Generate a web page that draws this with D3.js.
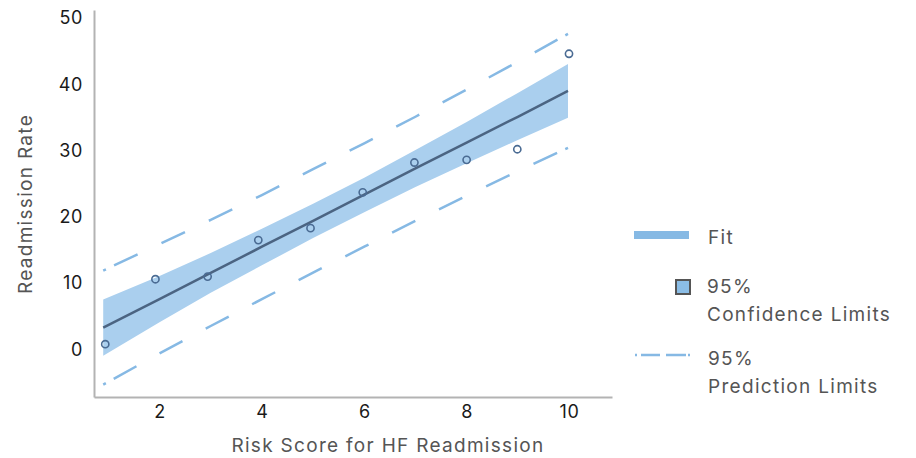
<!DOCTYPE html>
<html>
<head>
<meta charset="utf-8">
<script src="https://cdn.jsdelivr.net/npm/d3@7"></script>
<style>
  body { margin: 0; background: #fff; }
  text { font-family: Inter, "Noto Sans", sans-serif; }
</style>
</head>
<body>
<div id="chart"></div>
<script>
(function () {

    // observed points
    var scoreX = [0.94, 1.92, 2.94, 3.93, 4.95, 5.97, 6.98, 8, 8.99, 10];
    var rateY = [0.8, 10.6, 11.0, 16.5, 18.3, 23.7, 28.2, 28.6, 30.2, 44.6];

    // fit and limits
    var bandX = [0.9, 2, 3, 4, 5, 6, 7, 8, 9, 9.98];
    var fitY = [3.3, 7.6, 11.55, 15.5, 19.4, 23.35, 27.3, 31.2, 35.1, 39.0];
    var confUpper = [7.55, 11.1, 14.55, 18.2, 22.0, 25.9, 30.1, 34.3, 38.7, 43.05];
    var confLower = [-0.95, 4.1, 8.55, 12.7, 16.8, 20.7, 24.5, 28.1, 31.6, 34.95];
    var predUpper = [11.9, 15.9, 19.55, 23.3, 27.2, 31.1, 35.1, 39.2, 43.4, 47.6];
    var predLower = [-5.3, -0.6, 3.55, 7.6, 11.6, 15.5, 19.4, 23.2, 26.9, 30.4];

    var xTicks = [2, 4, 6, 8, 10];
    var yTicks = [0, 10, 20, 30, 40, 50];

    var W = 916, H = 458;
    var left = 94, right = 612, top = 10, bottom = 397;

    var svg = d3.select("#chart")
        .append("svg")
        .attr("width", W)
        .attr("height", H);

    var x = d3.scaleLinear().domain([0.72, 10.84]).range([left, right]);
    var y = d3.scaleLinear().domain([-7.16, 51.2]).range([bottom, top]);

    var rows = bandX.map(function (v, i) {
        return { x: v, fit: fitY[i], lo: confLower[i], hi: confUpper[i], plo: predLower[i], phi: predUpper[i] };
    });

    // confidence band
    svg.append("path")
        .datum(rows)
        .attr("fill", "#aacfee")
        .attr("d", d3.area()
            .x(function (d) { return x(d.x); })
            .y0(function (d) { return y(d.lo); })
            .y1(function (d) { return y(d.hi); }));

    // prediction limits
    var predColor = "#86b9e4";
    ["plo", "phi"].forEach(function (k) {
        var p = svg.append("path")
            .datum(rows)
            .attr("fill", "none")
            .attr("stroke", predColor)
            .attr("stroke-width", 2.5)
            .attr("d", d3.line()
                .x(function (d) { return x(d.x); })
                .y(function (d) { return y(d[k]); }));
        // dot, gap, evenly spread long dashes, gap, dot
        var L = p.node().getTotalLength();
        var dot = 3, g0 = 9, dash = 26;
        var inner = L - 2 * (dot + g0);
        var n = Math.round((inner + 27) / (dash + 27));
        var gap = (inner - n * dash) / (n - 1);
        var arr = [dot, g0];
        for (var i = 0; i < n; i++) {
            arr.push(dash);
            arr.push(i < n - 1 ? gap : g0);
        }
        arr.push(dot, 20);
        p.attr("stroke-dasharray", arr.join(","));
    });

    // fit line
    svg.append("path")
        .datum(rows)
        .attr("fill", "none")
        .attr("stroke", "#4b6482")
        .attr("stroke-width", 2.5)
        .attr("d", d3.line()
            .x(function (d) { return x(d.x); })
            .y(function (d) { return y(d.fit); }));

    // points
    svg.selectAll(".pt")
        .data(scoreX)
        .enter()
        .append("circle")
        .attr("class", "pt")
        .attr("cx", function (d) { return x(d); })
        .attr("cy", function (d, i) { return y(rateY[i]); })
        .attr("r", 3.6)
        .attr("fill", "none")
        .attr("stroke", "#4a6b93")
        .attr("stroke-width", 1.6);

    // axes
    var xAxis = svg.append("g")
        .attr("transform", "translate(0," + bottom + ")")
        .call(d3.axisBottom(x).tickValues(xTicks).tickSize(0).tickPadding(10));
    var yAxis = svg.append("g")
        .attr("transform", "translate(" + left + ",0)")
        .call(d3.axisLeft(y).tickValues(yTicks).tickSize(0).tickPadding(11));

    [xAxis, yAxis].forEach(function (a) {
        a.select(".domain").attr("stroke", "#b3b3b3").attr("stroke-width", 2);
        a.selectAll("text")
            .style("font-size", "18px")
            .style("letter-spacing", "0.6px")
            .attr("fill", "#1a1a1a");
    });
    xAxis.selectAll("text").attr("dy", "0.71em").attr("y", 8);

    // axis titles
    svg.append("text")
        .attr("x", 388)
        .attr("y", 452)
        .attr("text-anchor", "middle")
        .attr("fill", "#555")
        .style("font-size", "19px")
        .style("letter-spacing", "1.3px")
        .text("Risk Score for HF Readmission");

    svg.append("text")
        .attr("transform", "translate(32,204) rotate(-90)")
        .attr("text-anchor", "middle")
        .attr("fill", "#555")
        .style("font-size", "19px")
        .style("letter-spacing", "1.3px")
        .text("Readmission Rate");

    // legend
    var lg = svg.append("g");
    lg.append("line")
        .attr("x1", 634).attr("x2", 689)
        .attr("y1", 235).attr("y2", 235)
        .attr("stroke", "#86b9e4")
        .attr("stroke-width", 8);
    lg.append("rect")
        .attr("x", 676).attr("y", 280)
        .attr("width", 14).attr("height", 14)
        .attr("fill", "#8bbde6")
        .attr("stroke", "#555")
        .attr("stroke-width", 2);
    lg.append("line")
        .attr("x1", 635).attr("x2", 690)
        .attr("y1", 355).attr("y2", 355)
        .attr("stroke", predColor)
        .attr("stroke-width", 2.5)
        .attr("stroke-dasharray", "2,4,19,6,20,2,2");

    var legendText = [
        { t: "Fit", x: 708, y: 244 },
        { t: "95%", x: 707, y: 293 },
        { t: "Confidence Limits", x: 707, y: 321 },
        { t: "95%", x: 708, y: 365 },
        { t: "Prediction Limits", x: 708, y: 393 }
    ];
    lg.selectAll(".lt")
        .data(legendText)
        .enter()
        .append("text")
        .attr("class", "lt")
        .attr("x", function (d) { return d.x; })
        .attr("y", function (d) { return d.y; })
        .attr("fill", "#555")
        .style("font-size", "19px")
        .style("letter-spacing", "1.3px")
        .text(function (d) { return d.t; });

})();
</script>
</body>
</html>
